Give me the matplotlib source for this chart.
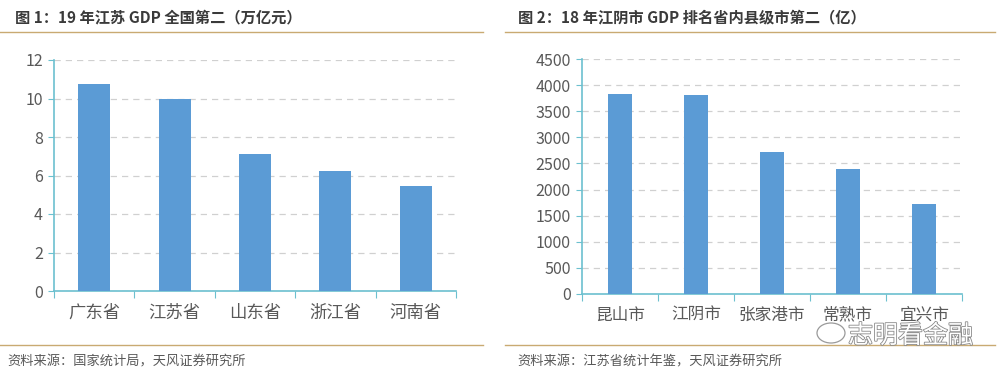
import matplotlib.pyplot as plt
import matplotlib.patheffects as pe
from matplotlib.patches import Ellipse

plt.rcParams['font.family'] = ['Noto Sans CJK SC', 'DejaVu Sans']

# 图1数据：19年各省GDP（万亿元）
provinces = ['广东省', '江苏省', '山东省', '浙江省', '河南省']
gdp_2019 = [10.77, 9.96, 7.11, 6.24, 5.43]
yticks_1 = [0, 2, 4, 6, 8, 10, 12]

# 图2数据：18年县级市GDP（亿）
cities = ['昆山市', '江阴市', '张家港市', '常熟市', '宜兴市']
gdp_2018 = [3832, 3806, 2720, 2400, 1730]
yticks_2 = [0, 500, 1000, 1500, 2000, 2500, 3000, 3500, 4000, 4500]

W, H = 1002, 378
fig = plt.figure(figsize=(W / 100, H / 100), dpi=100)

bar_c = '#5b9bd5'
axis_c = '#6cc0cf'
grid_c = '#d0d0d0'
text_c = '#595959'
gold = '#c9aa72'


def px_axes(x0, y0, x1, y1):
    # 像素坐标 -> figure 坐标
    return fig.add_axes([x0 / W, 1 - y1 / H, (x1 - x0) / W, (y1 - y0) / H])


def draw(ax, cats, vals, ticks, width, cat_fs, num_fs):
    x = range(len(cats))
    ax.bar(x, vals, width=width, color=bar_c, zorder=3)
    ax.set_xlim(-0.5, len(cats) - 0.5)
    ax.set_ylim(ticks[0], ticks[-1])
    ax.set_yticks(ticks)
    ax.set_yticklabels([str(t) for t in ticks], fontsize=num_fs, color=text_c)
    ax.set_xticks([i - 0.5 for i in range(len(cats) + 1)], minor=False)
    ax.set_xticklabels([])
    ax.set_xticks(list(x), minor=True)
    ax.set_xticklabels(cats, minor=True, fontsize=cat_fs, color=text_c)
    ax.tick_params(axis='x', which='major', length=5, color=axis_c, direction='out')
    ax.tick_params(axis='x', which='minor', length=0, pad=9)
    ax.tick_params(axis='y', length=4, color=axis_c, pad=4)
    for s in ['top', 'right']:
        ax.spines[s].set_visible(False)
    for s in ['left', 'bottom']:
        ax.spines[s].set_color(axis_c)
        ax.spines[s].set_linewidth(1.2)
    ax.yaxis.grid(True, linestyle=(0, (5, 4)), color=grid_c, linewidth=0.9, zorder=0)
    ax.set_axisbelow(True)


ax1 = px_axes(54, 60, 456, 291)
draw(ax1, provinces, gdp_2019, yticks_1, 0.4, 12.5, 11.5)

ax2 = px_axes(582, 59, 962, 294)
draw(ax2, cities, gdp_2018, yticks_2, 0.32, 12, 11.5)

# 标题与分割线
fig.text(15 / W, 1 - 17 / H, '图 1：19 年江苏 GDP 全国第二（万亿元）', fontsize=11,
         fontweight='bold', color='#3a3a3a', va='center')
fig.text(518 / W, 1 - 17 / H, '图 2：18 年江阴市 GDP 排名省内县级市第二（亿）', fontsize=11,
         fontweight='bold', color='#3a3a3a', va='center')
for (a, b) in [(0, 483), (505, 995)]:
    for yy in [32, 345]:
        fig.add_artist(plt.Line2D([a / W, b / W], [1 - yy / H, 1 - yy / H],
                                  color=gold, linewidth=1))

fig.text(7 / W, 1 - 362 / H, '资料来源：国家统计局，天风证券研究所', fontsize=9.5,
         color=text_c, va='center')
fig.text(517 / W, 1 - 362 / H, '资料来源：江苏省统计年鉴，天风证券研究所', fontsize=9.5,
         color=text_c, va='center')

# 水印
fig.text(848 / W, 1 - 336 / H, '志明看金融', fontsize=18, color='white', va='center',
         path_effects=[pe.withStroke(linewidth=1.2, foreground='#8a8a8a')])
fig.add_artist(Ellipse((831 / W, 1 - 333 / H), 28 / W, 20 / H, fill=False,
                       edgecolor='#9a9a9a', linewidth=0.9))

fig.savefig('out.png', dpi=100, facecolor='white')
